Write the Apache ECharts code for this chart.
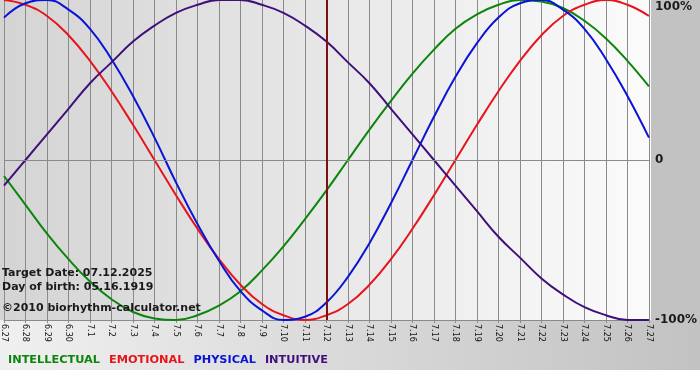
<!DOCTYPE html>
<html>
<head>
<meta charset="utf-8">
<script src="https://cdn.jsdelivr.net/npm/echarts@6/dist/echarts.min.js"></script>
<style>
  html, body { margin: 0; padding: 0; background: #ffffff; }
  #chart { width: 700px; height: 380px; }
</style>
</head>
<body>
<div id="chart"></div>
<script>
// 日期标签 (6.27 - 7.27)
const days = ['6.27', '6.28', '6.29', '6.30', '7.1', '7.2', '7.3', '7.4', '7.5', '7.6', '7.7', '7.8', '7.9', '7.10', '7.11', '7.12',
  '7.13', '7.14', '7.15', '7.16', '7.17', '7.18', '7.19', '7.20', '7.21', '7.22', '7.23', '7.24', '7.25', '7.26', '7.27'];

// 各周期数值 (-1 ~ 1)
const intellectual = [-0.10, -0.28, -0.46, -0.62, -0.76, -0.87, -0.95, -0.99, -1.00, -0.97, -0.91, -0.82, -0.69, -0.54, -0.37, -0.19,
  0.00, 0.19, 0.37, 0.54, 0.69, 0.82, 0.91, 0.97, 1.00, 0.99, 0.95, 0.87, 0.76, 0.62, 0.46];
const emotional = [1.00, 0.97, 0.90, 0.78, 0.62, 0.43, 0.22, 0.00, -0.22, -0.43, -0.62, -0.78, -0.90, -0.97, -1.00, -0.97,
  -0.90, -0.78, -0.62, -0.43, -0.22, 0.00, 0.22, 0.43, 0.62, 0.78, 0.90, 0.97, 1.00, 0.97, 0.90];
const physical = [0.89, 0.98, 1.00, 0.94, 0.82, 0.63, 0.40, 0.14, -0.14, -0.40, -0.63, -0.82, -0.94, -1.00, -0.98, -0.89,
  -0.73, -0.52, -0.27, 0.00, 0.27, 0.52, 0.73, 0.89, 0.98, 1.00, 0.94, 0.82, 0.63, 0.40, 0.14];
const intuitive = [-0.16, 0.00, 0.16, 0.32, 0.48, 0.61, 0.74, 0.84, 0.92, 0.97, 1.00, 1.00, 0.97, 0.92, 0.84, 0.74,
  0.61, 0.48, 0.32, 0.16, 0.00, -0.16, -0.32, -0.48, -0.61, -0.74, -0.84, -0.92, -0.97, -1.00, -1.00];

const targetDay = '7.12';
const yTicks = { '1': '100%', '0': '0', '-1': '-100%' };
const infoLines = ['Target Date: 07.12.2025', 'Day of birth: 05.16.1919', '©2010 biorhythm-calculator.net'];

const colors = {
  INTELLECTUAL: '#0c850c',
  EMOTIONAL: '#e8141c',
  PHYSICAL: '#0a14d6',
  INTUITIVE: '#40107a'
};

const chart = echarts.init(document.getElementById('chart'), null, { renderer: 'canvas' });

function makeSeries(name, data, extra) {
  return Object.assign({
    name: name,
    type: 'line',
    data: data,
    smooth: 0.45,
    symbol: 'none',
    clip: false,
    lineStyle: { color: colors[name], width: 2 },
    itemStyle: { color: colors[name] }
  }, extra || {});
}

const font = '"DejaVu Sans", Verdana, sans-serif';

// 左下角的说明文字
function infoText(text, top) {
  return {
    type: 'text', z: 10, silent: true, x: 2, y: top,
    style: { text: text, font: 'bold 11px ' + font, fill: '#1a1a1a' }
  };
}

const option = {
  animation: false,
  backgroundColor: '#ffffff',
  grid: { left: 0, right: 49, top: 0, bottom: 60 },
  graphic: [
    // 绘图区背景 (左暗右亮)
    {
      type: 'rect', z: -10, silent: true,
      shape: { x: 0, y: 0, width: 651, height: 320 },
      style: {
        fill: new echarts.graphic.LinearGradient(0, 0, 1, 0, [
          { offset: 0, color: '#d4d4d4' },
          { offset: 1, color: '#fbfbfb' }
        ])
      }
    },
    // 右侧灰色条
    {
      type: 'rect', z: -10, silent: true,
      shape: { x: 651, y: 0, width: 49, height: 320 },
      style: { fill: '#c2c2c2' }
    },
    // 底部渐变
    {
      type: 'rect', z: -10, silent: true,
      shape: { x: 0, y: 320, width: 700, height: 50 },
      style: {
        fill: new echarts.graphic.LinearGradient(0, 0, 1, 0, [
          { offset: 0, color: '#f0f0f0' },
          { offset: 1, color: '#c2c2c2' }
        ])
      }
    },
    infoText(infoLines[0], 268),
    infoText(infoLines[1], 282),
    infoText(infoLines[2], 303)
  ],
  legend: {
    left: 3,
    top: 355,
    padding: 0,
    icon: 'rect',
    itemWidth: 0,
    itemHeight: 0,
    itemGap: 4,
    selectedMode: false,
    textStyle: { fontFamily: font, fontWeight: 'bold', fontSize: 11.3 },
    data: Object.keys(colors).map(function (n) {
      return { name: n, textStyle: { color: colors[n] } };
    })
  },
  xAxis: {
    type: 'category',
    data: days,
    boundaryGap: false,
    axisLine: { onZero: false, lineStyle: { color: '#8a8a8a', width: 1 } },
    axisTick: { show: true, length: 3, lineStyle: { color: '#8a8a8a' } },
    splitLine: { show: true, lineStyle: { color: '#8a8a8a', width: 1 } },
    axisLabel: {
      rotate: -90,
      interval: 0,
      margin: 4,
      fontFamily: font,
      fontSize: 8,
      color: '#111111'
    }
  },
  yAxis: {
    type: 'value',
    position: 'right',
    min: -1,
    max: 1,
    interval: 1,
    axisLine: { show: false },
    axisTick: { show: false },
    splitLine: { show: false },
    axisLabel: {
      margin: 6,
      fontFamily: font,
      fontWeight: 'bold',
      fontSize: 12,
      color: '#1a1a1a',
      formatter: function (v) {
        return v === 1 ? '{top|' + yTicks['1'] + '}' : yTicks[String(v)];
      },
      rich: {
        top: { fontFamily: font, fontWeight: 'bold', fontSize: 12, color: '#1a1a1a', padding: [14, 0, 0, 0] }
      }
    }
  },
  series: [
    makeSeries('INTELLECTUAL', intellectual, {
      markLine: {
        silent: true,
        symbol: 'none',
        label: { show: false },
        data: [
          { yAxis: 0, lineStyle: { color: '#8a8a8a', width: 1, type: 'solid' } },
          { xAxis: targetDay, lineStyle: { color: '#7a1212', width: 2, type: 'solid' } }
        ]
      }
    }),
    makeSeries('EMOTIONAL', emotional),
    makeSeries('PHYSICAL', physical),
    makeSeries('INTUITIVE', intuitive)
  ]
};

chart.setOption(option);
</script>
</body>
</html>
